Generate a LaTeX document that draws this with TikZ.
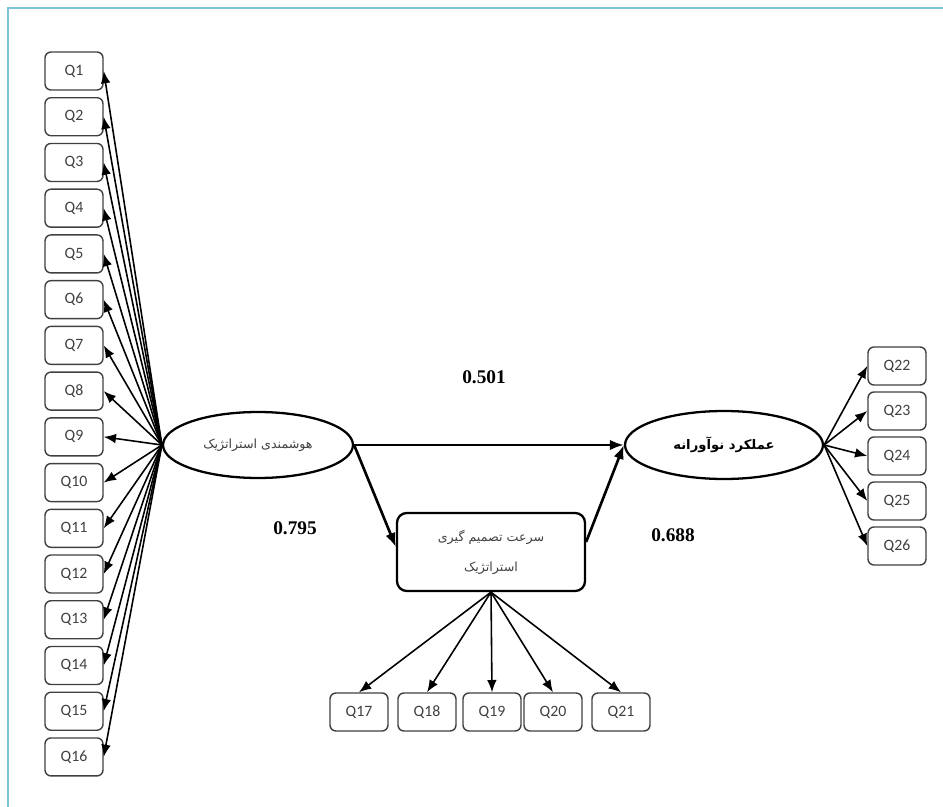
\documentclass[tikz,border=0pt]{standalone}
\usepackage{fontspec}
\setmainfont{Liberation Serif}
\newfontfamily\qfont{Carlito}
\newfontfamily\farsi[Script=Arabic]{DejaVu Sans}
\TeXXeTstate=1
\usetikzlibrary{shapes.geometric,arrows.meta}
\definecolor{frameblue}{RGB}{125,195,220}

\begin{document}
\begin{tikzpicture}[x=0.02cm,y=-0.02cm,
	item/.style={ draw=black!75, line width=0.8pt, rounded corners=3.4pt, minimum width=1.16cm, minimum height=0.76cm, inner sep=0pt, text=black!75, font=\qfont\fontsize{9}{10}\selectfont },
	latent/.style={ ellipse, draw, line width=1.3pt, inner sep=0pt },
	coef/.style={ font=\bfseries\fontsize{11}{13}\selectfont },
	pathto/.style={ -{Latex[length=8pt,width=6pt]}, line width=1.5pt },
	loadto/.style={ -{Latex[length=7pt,width=5.5pt]}, line width=0.9pt }
]
\useasboundingbox (0,0) rectangle (943,807);
\draw[frameblue, line width=1.2pt] (8,807) -- (8,8) -- (943,8);

% latent variables
\node at (258,445) (intel) [latent, minimum width=3.8cm, minimum height=1.32cm, text=black!75, font=\farsi\fontsize{7.2}{9}\selectfont] {\beginR هوشمندی استراتژیک\endR};
\node at (724,445) (innov) [latent, minimum width=3.96cm, minimum height=1.36cm, font=\farsi\bfseries\fontsize{7.5}{9}\selectfont] {\beginR عملکرد نوآورانه\endR};
\node at (491,552) (speed) [draw, line width=1.3pt, rounded corners=5.5pt, minimum width=3.76cm, minimum height=1.56cm, align=center, text=black!75, font=\farsi\fontsize{7.2}{17}\selectfont] {\beginR سرعت تصمیم گیری\endR\\\beginR استراتژیک\endR};

% items
\foreach \i in {1,...,16} \node at (74,{71+(\i-1)*45.73}) (q\i) [item] {Q\i};
\foreach \i/\x in {17/359,18/427,19/492,20/553,21/621} \node at (\x,712) (q\i) [item] {Q\i};
\foreach \i in {22,...,26} \node at (897,{366+(\i-22)*45}) (q\i) [item] {Q\i};

\foreach \i in {1,...,16} \draw[loadto] (intel.west) to (q\i.east);
\foreach \i in {17,...,21} \draw[loadto] (speed.south) to (q\i.north);
\foreach \i in {22,...,26} \draw[loadto] (innov.east) to (q\i.west);

% structural paths
\draw[pathto] (intel.east) to (innov.west);
\draw[pathto] (intel.east) to (speed.177);
\draw[pathto] (speed.6) to (innov.west);

\node at (484,377) (b1) [coef] {0.501};
\node at (295,528) (b2) [coef] {0.795};
\node at (673,535) (b3) [coef] {0.688};
\end{tikzpicture}
\end{document}
